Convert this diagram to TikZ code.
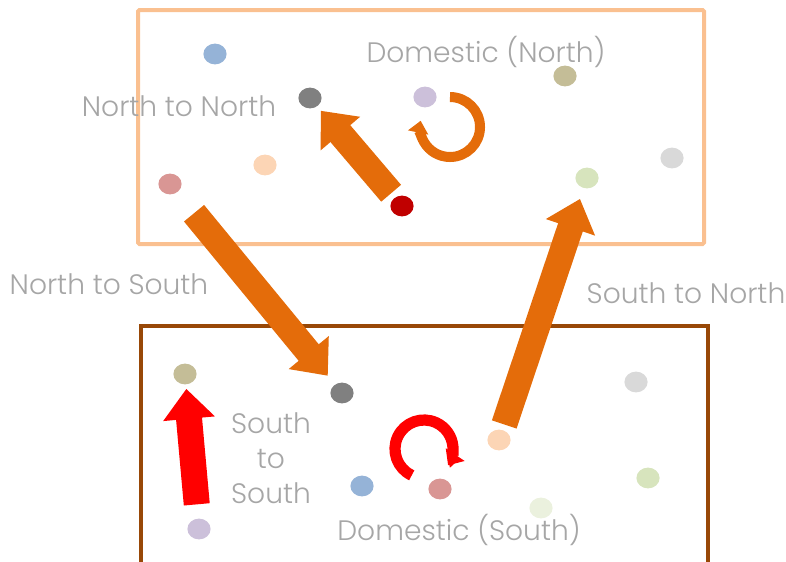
\documentclass[tikz,border=0pt]{standalone}
\usepackage{fontspec}
\setmainfont{Poppins}[UprightFont={* Light}]
\usetikzlibrary{shapes.geometric,arrows.meta}

\definecolor{northline}{HTML}{FAC090}
\definecolor{southline}{HTML}{984807}
\definecolor{arrorange}{HTML}{E46C0A}
\definecolor{arrred}{HTML}{FF0000}
\definecolor{labelgray}{HTML}{A6A6A6}
\definecolor{dotblue}{HTML}{95B3D7}
\definecolor{dotgray}{HTML}{808080}
\definecolor{dotlilac}{HTML}{CCC0DA}
\definecolor{dottan}{HTML}{C4BD97}
\definecolor{dotpeach}{HTML}{FCD5B5}
\definecolor{dotrose}{HTML}{D99694}
\definecolor{dotred}{HTML}{C00000}
\definecolor{dotgreen}{HTML}{D7E4BD}
\definecolor{dotsilver}{HTML}{D9D9D9}
\definecolor{dotpale}{HTML}{EBF1DE}

\begin{document}
\begin{tikzpicture}[x=0.025cm,y=-0.025cm]
  \useasboundingbox (0,0) rectangle (786,561);

  % the two regions
  \draw[northline,line width=0.1cm,rounded corners=1pt] (138,10) rectangle (704,244);
  \draw[southline,line width=0.1cm] (141,326) rectangle (708,600);

  \begin{scope}[every node/.style={ellipse,minimum width=0.58cm,minimum height=0.52cm,inner sep=0pt}]
    % north
    \node[fill=dotblue]   (n1) at (215,54)  {};
    \node[fill=dotgray]   (n2) at (310,98)  {};
    \node[fill=dotlilac]  (n3) at (425,97)  {};
    \node[fill=dottan]    (n4) at (565,76)  {};
    \node[fill=dotpeach]  (n5) at (265,165) {};
    \node[fill=dotrose]   (n6) at (170,184) {};
    \node[fill=dotred]    (n7) at (402,206) {};
    \node[fill=dotgreen]  (n8) at (587,178) {};
    \node[fill=dotsilver] (n9) at (672,158) {};
    % south
    \node[fill=dottan]    (s1) at (185,374) {};
    \node[fill=dotgray]   (s2) at (342,393) {};
    \node[fill=dotsilver] (s3) at (636,382) {};
    \node[fill=dotpeach]  (s4) at (499,440) {};
    \node[fill=dotgreen]  (s5) at (648,478) {};
    \node[fill=dotblue]   (s6) at (362,486) {};
    \node[fill=dotrose]   (s7) at (440,489) {};
    \node[fill=dotpale]   (s8) at (541,508) {};
    \node[fill=dotlilac]  (s9) at (199,529) {};
  \end{scope}

  \begin{scope}[every node/.style={text=labelgray,font=\fontsize{20}{24}\selectfont,inner sep=0pt}]
    \node (domnorth) at (486,52)  {Domestic (North)};
    \node (nton)     at (179,106) {North to North};
    \node (ntos)     at (109,284) {North to South};
    \node (ston)     at (686,293) {South to North};
    \node[align=center,font=\fontsize{20}{25}\selectfont] (stos) at (271,458) {South\\to\\South};
    \node (domsouth) at (459,530) {Domestic (South)};
  \end{scope}

  \begin{scope}[every edge/.style={draw,line width=0.65cm,-{Triangle[width=1.25cm,length=0.75cm]}}]
    \path (n7) edge[draw=arrorange,shorten <=4pt,shorten >=4pt] (n2);
    \path (n6) edge[draw=arrorange,shorten <=19pt,shorten >=8pt] (s2);
    \path (s4) edge[draw=arrorange,shorten <=4pt,shorten >=8pt] (n8);
    \path (s9) edge[draw=arrred,shorten <=10pt,shorten >=3pt] (s1);
  \end{scope}

  % domestic loops
  \draw[arrorange,line width=0.25cm,-{Triangle[width=0.5cm,length=0.3cm]}]
    (450,127) ++(90:0.75cm) arc[start angle=90,end angle=-192,radius=0.75cm];
  \draw[arrred,line width=0.28cm,-{Triangle[width=0.55cm,length=0.32cm]}]
    (424,449) ++(245:0.725cm) arc[start angle=245,end angle=-34,radius=0.725cm];

\end{tikzpicture}
\end{document}
